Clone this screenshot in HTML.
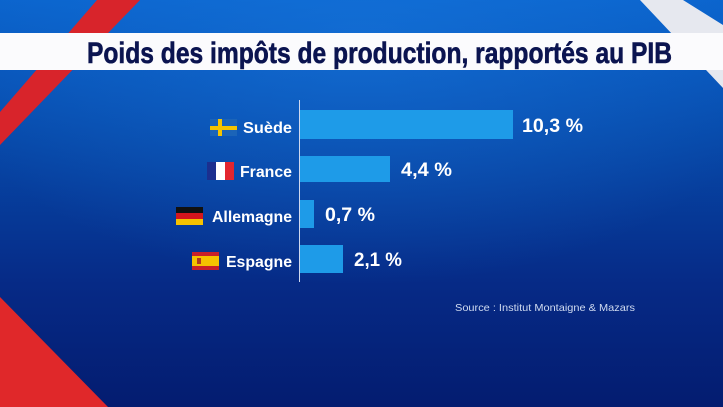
<!DOCTYPE html>
<html><head><meta charset="utf-8"><style>
html,body{margin:0;padding:0;width:723px;height:407px;overflow:hidden}
svg{display:block}
text{font-family:"Liberation Sans",sans-serif;font-weight:bold}
</style></head><body>
<svg width="723" height="407" viewBox="0 0 723 407" xmlns="http://www.w3.org/2000/svg">
<defs>
<linearGradient id="bg" x1="0" y1="0" x2="0" y2="1">
<stop offset="0" stop-color="#0a63cc"/>
<stop offset="0.35" stop-color="#0748a8"/>
<stop offset="0.7" stop-color="#062a86"/>
<stop offset="1" stop-color="#041c70"/>
</linearGradient>
<radialGradient id="glow" cx="0.5" cy="0.1" r="0.6">
<stop offset="0" stop-color="#1a7ae0" stop-opacity="0.5"/>
<stop offset="1" stop-color="#1a7ae0" stop-opacity="0"/>
</radialGradient>
</defs>
<rect width="723" height="407" fill="url(#bg)"/>
<rect width="723" height="407" fill="url(#glow)"/>
<polygon points="97,0 140,0 0,145 0,112" fill="#d8242b"/>
<polygon points="640,0 683,0 723,25 723,88" fill="#e6e8ef"/>
<polygon points="0,297 108,407 0,407" fill="#e0282a"/>
<rect x="0" y="33" width="723" height="37" fill="#fbfbfd"/>
<text x="87" y="63" font-size="30" fill="#0b1450" stroke="#0b1450" stroke-width="0.6" textLength="585" lengthAdjust="spacingAndGlyphs">Poids des impôts de production, rapportés au PIB</text>
<line x1="299.5" y1="100" x2="299.5" y2="282" stroke="#cfd8ee" stroke-width="1"/>
<rect x="300" y="110" width="213" height="29" fill="#1e9be8"/>
<rect x="300" y="156" width="90" height="26" fill="#1e9be8"/>
<rect x="300" y="200" width="14" height="28" fill="#1e9be8"/>
<rect x="300" y="245" width="43" height="28" fill="#1e9be8"/>
<g fill="#fff" font-size="16">
<text x="292" y="133" text-anchor="end" textLength="49" lengthAdjust="spacingAndGlyphs">Suède</text>
<text x="292" y="177" text-anchor="end" textLength="52" lengthAdjust="spacingAndGlyphs">France</text>
<text x="292" y="222" text-anchor="end" textLength="80" lengthAdjust="spacingAndGlyphs">Allemagne</text>
<text x="292" y="267" text-anchor="end" textLength="66" lengthAdjust="spacingAndGlyphs">Espagne</text>
</g>
<g fill="#fff" font-size="19">
<text x="522" y="132" textLength="61" lengthAdjust="spacingAndGlyphs">10,3 %</text>
<text x="401" y="176" textLength="51" lengthAdjust="spacingAndGlyphs">4,4 %</text>
<text x="325" y="221" textLength="50" lengthAdjust="spacingAndGlyphs">0,7 %</text>
<text x="354" y="266" textLength="48" lengthAdjust="spacingAndGlyphs">2,1 %</text>
</g>
<rect x="210" y="119" width="27" height="17" fill="#1b64b8"/>
<rect x="218" y="119" width="4" height="17" fill="#f5c400"/>
<rect x="210" y="126" width="27" height="4" fill="#f5c400"/>
<rect x="207" y="162" width="9" height="18" fill="#1b2f8f"/>
<rect x="216" y="162" width="9" height="18" fill="#ffffff"/>
<rect x="225" y="162" width="9" height="18" fill="#e3262f"/>
<rect x="176" y="207" width="27" height="6" fill="#111"/>
<rect x="176" y="213" width="27" height="6" fill="#d5161d"/>
<rect x="176" y="219" width="27" height="6" fill="#f6c200"/>
<rect x="192" y="252" width="27" height="18" fill="#c8202a"/>
<rect x="192" y="256" width="27" height="10" fill="#f5c300"/>
<rect x="197" y="258" width="4" height="6" fill="#b03a20"/>
<text x="455" y="311" font-size="10.5" fill="#d0dbf0" style="font-weight:normal" textLength="180" lengthAdjust="spacingAndGlyphs">Source : Institut Montaigne &amp; Mazars</text>
</svg>
</body></html>
